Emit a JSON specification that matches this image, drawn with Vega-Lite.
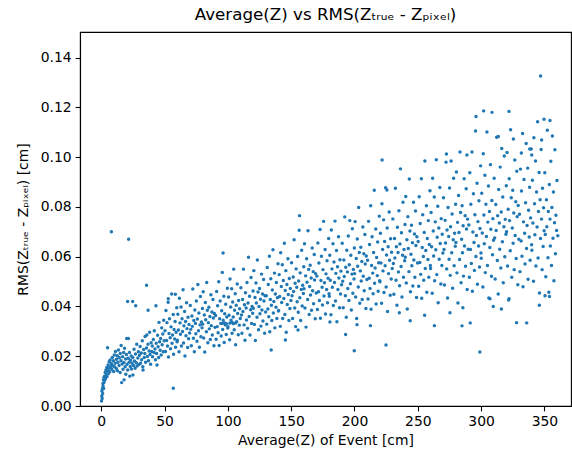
{
"$schema": "https://vega.github.io/schema/vega-lite/v6.json",
"width": 491, "height": 374,
"autosize": {"type": "none"},
"padding": {"left": 80, "top": 32, "right": 1, "bottom": 44},
"title": {"text": "Average(Z) vs RMS(Zₜᵣᵤₑ - Zₚᵢₓₑₗ)", "font": "DejaVu Sans", "fontSize": 16.7, "fontWeight": "normal", "color": "black", "offset": 8, "anchor": "middle"},
"data": {"values": [
{"z":0.2,"r":0.002},{"z":0.4,"r":0.004},{"z":0.5,"r":0.006},{"z":0.7,"r":0.003},{"z":0.9,"r":0.007},{"z":1.1,"r":0.005},{"z":1.3,"r":0.009},{"z":1.4,"r":0.008},{"z":1.7,"r":0.0105},{"z":1.9,"r":0.007},{"z":2.1,"r":0.0115},{"z":2.3,"r":0.0095},{"z":2.6,"r":0.012},{"z":2.9,"r":0.0105},{"z":3.1,"r":0.0135},{"z":3.3,"r":0.011},{"z":3.7,"r":0.0145},{"z":4.0,"r":0.0125},{"z":4.4,"r":0.0155},{"z":4.5,"r":0.0118},{"z":4.9,"r":0.0142},{"z":5.0,"r":0.0234},{"z":5.4,"r":0.0165},{"z":5.6,"r":0.013},{"z":6.1,"r":0.0152},{"z":6.2,"r":0.0178},{"z":6.7,"r":0.0138},{"z":7.0,"r":0.0185},{"z":7.3,"r":0.0158},{"z":7.9,"r":0.0171},{"z":8.0,"r":0.07},{"z":8.3,"r":0.0148},{"z":8.7,"r":0.0195},{"z":9.0,"r":0.0162},{"z":9.6,"r":0.0182},{"z":9.8,"r":0.0139},
{"z":10.3,"r":0.0205},{"z":10.4,"r":0.0158},{"z":11.0,"r":0.0172},{"z":11.2,"r":0.0219},{"z":11.9,"r":0.0151},{"z":12.0,"r":0.0188},{"z":12.6,"r":0.0202},{"z":12.7,"r":0.0142},{"z":13.2,"r":0.0176},{"z":13.6,"r":0.0225},{"z":14.1,"r":0.0163},{"z":14.3,"r":0.0194},{"z":14.9,"r":0.0135},{"z":15.0,"r":0.0211},{"z":15.6,"r":0.0182},{"z":15.7,"r":0.0243},{"z":16.1,"r":0.0094},{"z":16.5,"r":0.0169},{"z":16.9,"r":0.0198},{"z":17.2,"r":0.0148},{"z":17.7,"r":0.0215},{"z":17.9,"r":0.0175},{"z":18.0,"r":0.0105},{"z":18.4,"r":0.0232},{"z":18.9,"r":0.0158},{"z":19.3,"r":0.0189},{"z":19.4,"r":0.0128},{"z":19.9,"r":0.0207},
{"z":20.1,"r":0.0271},{"z":20.4,"r":0.0168},{"z":20.8,"r":0.042},{"z":20.9,"r":0.0145},{"z":21.3,"r":0.0192},{"z":21.4,"r":0.0271},{"z":21.6,"r":0.067},{"z":22.0,"r":0.0176},{"z":22.3,"r":0.0215},{"z":22.5,"r":0.012},{"z":22.9,"r":0.0159},{"z":23.1,"r":0.0184},{"z":23.7,"r":0.0201},{"z":23.8,"r":0.0149},{"z":24.3,"r":0.0172},{"z":24.8,"r":0.042},{"z":24.9,"r":0.0195},{"z":25.0,"r":0.0125},{"z":25.5,"r":0.0163},{"z":25.9,"r":0.0228},{"z":26.2,"r":0.0181},{"z":26.7,"r":0.0152},{"z":27.0,"r":0.0209},{"z":27.2,"r":0.0403},{"z":27.6,"r":0.0174},{"z":28.0,"r":0.0248},{"z":28.3,"r":0.0161},{"z":28.9,"r":0.0193},{"z":29.3,"r":0.0218},{"z":29.7,"r":0.0167},
{"z":30.2,"r":0.0204},{"z":30.7,"r":0.0239},{"z":31.0,"r":0.0172},{"z":31.6,"r":0.0213},{"z":31.9,"r":0.0186},{"z":32.4,"r":0.0262},{"z":32.8,"r":0.0158},{"z":33.0,"r":0.0145},{"z":33.5,"r":0.0227},{"z":33.9,"r":0.0195},{"z":34.4,"r":0.0211},{"z":34.6,"r":0.0279},{"z":35.0,"r":0.0176},{"z":35.7,"r":0.0233},{"z":35.8,"r":0.0485},{"z":36.0,"r":0.0285},{"z":36.4,"r":0.0199},{"z":36.9,"r":0.0248},{"z":37.0,"r":0.0385},{"z":37.3,"r":0.0182},{"z":37.8,"r":0.0221},{"z":38.2,"r":0.0296},{"z":38.5,"r":0.0207},{"z":39.0,"r":0.0168},{"z":39.4,"r":0.0254},{"z":39.8,"r":0.0219},
{"z":40.3,"r":0.0241},{"z":40.5,"r":0.0198},{"z":41.1,"r":0.0267},{"z":41.6,"r":0.0215},{"z":41.9,"r":0.0302},{"z":42.4,"r":0.0229},{"z":42.8,"r":0.0186},{"z":43.2,"r":0.0403},{"z":43.4,"r":0.0252},{"z":43.7,"r":0.0211},{"z":44.0,"r":0.0165},{"z":44.5,"r":0.0284},{"z":44.9,"r":0.0238},{"z":45.3,"r":0.0195},{"z":45.6,"r":0.0336},{"z":46.1,"r":0.0258},{"z":46.5,"r":0.0224},{"z":46.9,"r":0.0271},{"z":47.3,"r":0.0205},{"z":47.7,"r":0.0314},{"z":48.1,"r":0.0246},{"z":48.6,"r":0.0289},{"z":48.9,"r":0.0218},{"z":49.3,"r":0.0345},{"z":49.7,"r":0.0262},
{"z":50.3,"r":0.0302},{"z":50.7,"r":0.0219},{"z":51.1,"r":0.0384},{"z":51.6,"r":0.0263},{"z":51.9,"r":0.0335},{"z":52.3,"r":0.0241},{"z":52.8,"r":0.0417},{"z":53.1,"r":0.0197},{"z":53.5,"r":0.0291},{"z":53.9,"r":0.0351},{"z":54.4,"r":0.0274},{"z":54.7,"r":0.023},{"z":55.1,"r":0.0318},{"z":55.6,"r":0.045},{"z":55.9,"r":0.0252},{"z":56.3,"r":0.0285},{"z":56.8,"r":0.0368},{"z":57.1,"r":0.0208},{"z":57.5,"r":0.0307},{"z":58.0,"r":0.0269},{"z":58.3,"r":0.034},{"z":58.7,"r":0.0236},{"z":59.1,"r":0.0296},{"z":59.6,"r":0.0395},{"z":59.9,"r":0.0258},{"z":52.9,"r":0.0431},{"z":56.9,"r":0.0071},{"z":58.5,"r":0.0449},
{"z":60.1,"r":0.0264},{"z":60.5,"r":0.0369},{"z":60.9,"r":0.0305},{"z":61.4,"r":0.0218},{"z":61.7,"r":0.0433},{"z":62.2,"r":0.0334},{"z":62.5,"r":0.0288},{"z":63.0,"r":0.0398},{"z":63.3,"r":0.0241},{"z":63.8,"r":0.0351},{"z":64.2,"r":0.0299},{"z":64.6,"r":0.0467},{"z":65.0,"r":0.0253},{"z":65.3,"r":0.0322},{"z":65.8,"r":0.038},{"z":66.1,"r":0.0201},{"z":66.6,"r":0.034},{"z":66.9,"r":0.0282},{"z":67.4,"r":0.0415},{"z":67.7,"r":0.0311},{"z":68.2,"r":0.0235},{"z":68.5,"r":0.0357},{"z":69.0,"r":0.027},{"z":69.3,"r":0.0328},{"z":69.8,"r":0.0293},
{"z":70.3,"r":0.0404},{"z":70.7,"r":0.0308},{"z":71.1,"r":0.0242},{"z":71.6,"r":0.0362},{"z":71.9,"r":0.032},{"z":72.3,"r":0.047},{"z":72.8,"r":0.0272},{"z":73.1,"r":0.0344},{"z":73.5,"r":0.0218},{"z":73.9,"r":0.0386},{"z":74.4,"r":0.0332},{"z":74.7,"r":0.029},{"z":75.1,"r":0.0422},{"z":75.6,"r":0.026},{"z":75.9,"r":0.035},{"z":76.3,"r":0.0488},{"z":76.8,"r":0.0302},{"z":77.1,"r":0.0374},{"z":77.5,"r":0.0236},{"z":78.0,"r":0.0326},{"z":78.3,"r":0.044},{"z":78.7,"r":0.0278},{"z":79.1,"r":0.0338},{"z":79.6,"r":0.0314},{"z":79.9,"r":0.0392},
{"z":80.1,"r":0.0329},{"z":80.5,"r":0.0459},{"z":80.9,"r":0.0273},{"z":81.4,"r":0.0366},{"z":81.7,"r":0.0217},{"z":82.2,"r":0.0416},{"z":82.5,"r":0.0347},{"z":83.0,"r":0.0298},{"z":83.3,"r":0.0496},{"z":83.8,"r":0.0385},{"z":84.2,"r":0.0254},{"z":84.6,"r":0.0335},{"z":85.0,"r":0.0397},{"z":85.3,"r":0.031},{"z":85.8,"r":0.036},{"z":86.1,"r":0.0267},{"z":86.6,"r":0.0447},{"z":86.9,"r":0.0323},{"z":87.4,"r":0.0378},{"z":87.7,"r":0.0285},{"z":88.2,"r":0.0428},{"z":88.5,"r":0.0354},{"z":89.0,"r":0.0242},{"z":89.3,"r":0.0372},{"z":89.8,"r":0.0316},
{"z":90.3,"r":0.0364},{"z":90.7,"r":0.0268},{"z":91.1,"r":0.046},{"z":91.6,"r":0.0319},{"z":91.9,"r":0.0403},{"z":92.3,"r":0.0294},{"z":92.8,"r":0.0499},{"z":93.1,"r":0.0243},{"z":93.5,"r":0.0351},{"z":93.9,"r":0.0422},{"z":94.4,"r":0.0332},{"z":94.7,"r":0.0281},{"z":95.1,"r":0.0383},{"z":95.6,"r":0.0537},{"z":95.9,"r":0.0307},{"z":96.3,"r":0.0345},{"z":96.8,"r":0.0441},{"z":97.1,"r":0.0255},{"z":97.5,"r":0.0371},{"z":98.0,"r":0.0326},{"z":98.3,"r":0.0409},{"z":98.7,"r":0.0287},{"z":99.1,"r":0.0358},{"z":99.6,"r":0.0473},{"z":99.9,"r":0.0313},{"z":96.2,"r":0.0615},{"z":95.5,"r":0.0332},{"z":97.3,"r":0.0334},{"z":98.8,"r":0.0331},{"z":101.6,"r":0.0333},{"z":103.2,"r":0.0336},{"z":104.4,"r":0.0331},{"z":106.0,"r":0.0334},
{"z":100.1,"r":0.0319},{"z":100.5,"r":0.0438},{"z":100.9,"r":0.0365},{"z":101.4,"r":0.0266},{"z":101.7,"r":0.051},{"z":102.2,"r":0.0398},{"z":102.5,"r":0.0345},{"z":103.0,"r":0.0471},{"z":103.3,"r":0.0292},{"z":103.8,"r":0.0418},{"z":104.2,"r":0.0358},{"z":104.6,"r":0.055},{"z":105.0,"r":0.0306},{"z":105.3,"r":0.0385},{"z":105.8,"r":0.0451},{"z":106.1,"r":0.0246},{"z":106.6,"r":0.0405},{"z":106.9,"r":0.0339},{"z":107.4,"r":0.049},{"z":107.7,"r":0.0372},{"z":108.2,"r":0.0286},{"z":108.5,"r":0.0424},{"z":109.0,"r":0.0325},{"z":109.3,"r":0.0391},{"z":109.8,"r":0.0352},
{"z":110.3,"r":0.0475},{"z":110.7,"r":0.0366},{"z":111.1,"r":0.0292},{"z":111.6,"r":0.0428},{"z":111.9,"r":0.038},{"z":112.3,"r":0.055},{"z":112.8,"r":0.0326},{"z":113.1,"r":0.0407},{"z":113.5,"r":0.0264},{"z":113.9,"r":0.0455},{"z":114.4,"r":0.0394},{"z":114.7,"r":0.0346},{"z":115.1,"r":0.0496},{"z":115.6,"r":0.0312},{"z":115.9,"r":0.0414},{"z":116.3,"r":0.0598},{"z":116.8,"r":0.036},{"z":117.1,"r":0.0441},{"z":117.5,"r":0.0285},{"z":118.0,"r":0.0387},{"z":118.3,"r":0.0516},{"z":118.7,"r":0.0332},{"z":119.1,"r":0.04},{"z":119.6,"r":0.0373},{"z":119.9,"r":0.0462},
{"z":120.1,"r":0.0393},{"z":120.5,"r":0.0544},{"z":120.9,"r":0.0328},{"z":121.4,"r":0.0436},{"z":121.7,"r":0.0263},{"z":122.2,"r":0.0494},{"z":122.5,"r":0.0414},{"z":123.0,"r":0.0357},{"z":123.3,"r":0.0587},{"z":123.8,"r":0.0458},{"z":124.2,"r":0.0306},{"z":124.6,"r":0.04},{"z":125.0,"r":0.0472},{"z":125.3,"r":0.0371},{"z":125.8,"r":0.0429},{"z":126.1,"r":0.0321},{"z":126.6,"r":0.053},{"z":126.9,"r":0.0386},{"z":127.4,"r":0.045},{"z":127.7,"r":0.0342},{"z":128.2,"r":0.0508},{"z":128.5,"r":0.0422},{"z":129.0,"r":0.0292},{"z":129.3,"r":0.0443},{"z":129.8,"r":0.0378},
{"z":130.3,"r":0.0443},{"z":130.7,"r":0.0329},{"z":131.1,"r":0.0557},{"z":131.6,"r":0.039},{"z":131.9,"r":0.0488},{"z":132.3,"r":0.0359},{"z":132.8,"r":0.0602},{"z":133.1,"r":0.0298},{"z":133.5,"r":0.0428},{"z":133.9,"r":0.0511},{"z":134.4,"r":0.0405},{"z":134.7,"r":0.0344},{"z":135.1,"r":0.0466},{"z":135.6,"r":0.0628},{"z":135.9,"r":0.0374},{"z":136.3,"r":0.042},{"z":136.8,"r":0.0534},{"z":137.1,"r":0.0314},{"z":137.5,"r":0.045},{"z":138.0,"r":0.0397},{"z":138.3,"r":0.0496},{"z":138.7,"r":0.0352},{"z":139.1,"r":0.0435},{"z":139.6,"r":0.0572},{"z":139.9,"r":0.0382},{"z":134.2,"r":0.0225},
{"z":140.1,"r":0.0384},{"z":140.5,"r":0.0528},{"z":140.9,"r":0.044},{"z":141.4,"r":0.032},{"z":141.7,"r":0.0616},{"z":142.2,"r":0.048},{"z":142.5,"r":0.0416},{"z":143.0,"r":0.0568},{"z":143.3,"r":0.0352},{"z":143.8,"r":0.0504},{"z":144.2,"r":0.0432},{"z":144.6,"r":0.0654},{"z":145.0,"r":0.0368},{"z":145.3,"r":0.0464},{"z":145.8,"r":0.0544},{"z":146.1,"r":0.0296},{"z":146.6,"r":0.0488},{"z":146.9,"r":0.0408},{"z":147.4,"r":0.0592},{"z":147.7,"r":0.0448},{"z":148.2,"r":0.0344},{"z":148.5,"r":0.0512},{"z":149.0,"r":0.0392},{"z":149.3,"r":0.0472},{"z":149.8,"r":0.0424},{"z":145.4,"r":0.0265},
{"z":150.3,"r":0.0576},{"z":150.7,"r":0.0443},{"z":151.1,"r":0.0352},{"z":151.6,"r":0.0518},{"z":151.9,"r":0.046},{"z":152.3,"r":0.0668},{"z":152.8,"r":0.0394},{"z":153.1,"r":0.0493},{"z":153.5,"r":0.0319},{"z":153.9,"r":0.0551},{"z":154.4,"r":0.0477},{"z":154.7,"r":0.0419},{"z":155.1,"r":0.0601},{"z":155.6,"r":0.0377},{"z":155.9,"r":0.0502},{"z":156.3,"r":0.0706},{"z":156.8,"r":0.0435},{"z":157.1,"r":0.0535},{"z":157.5,"r":0.0344},{"z":158.0,"r":0.0468},{"z":158.3,"r":0.0626},{"z":158.7,"r":0.0402},{"z":159.1,"r":0.0485},{"z":159.6,"r":0.0452},{"z":159.9,"r":0.056},{"z":156.6,"r":0.0765},{"z":155.4,"r":0.0305},
{"z":160.1,"r":0.0471},{"z":160.5,"r":0.0652},{"z":160.9,"r":0.0394},{"z":161.4,"r":0.0523},{"z":161.7,"r":0.0317},{"z":162.2,"r":0.0592},{"z":162.5,"r":0.0497},{"z":163.0,"r":0.0428},{"z":163.3,"r":0.0704},{"z":163.8,"r":0.0549},{"z":164.2,"r":0.0368},{"z":164.6,"r":0.048},{"z":165.0,"r":0.0566},{"z":165.3,"r":0.0446},{"z":165.8,"r":0.0514},{"z":166.1,"r":0.0385},{"z":166.6,"r":0.0635},{"z":166.9,"r":0.0463},{"z":167.4,"r":0.054},{"z":167.7,"r":0.0411},{"z":168.2,"r":0.0609},{"z":168.5,"r":0.0506},{"z":169.0,"r":0.0351},{"z":169.3,"r":0.0532},{"z":169.8,"r":0.0454},
{"z":170.3,"r":0.0522},{"z":170.7,"r":0.0388},{"z":171.1,"r":0.0655},{"z":171.6,"r":0.0459},{"z":171.9,"r":0.0575},{"z":172.3,"r":0.0424},{"z":172.8,"r":0.0709},{"z":173.1,"r":0.0353},{"z":173.5,"r":0.0504},{"z":173.9,"r":0.0602},{"z":174.4,"r":0.0477},{"z":174.7,"r":0.0406},{"z":175.1,"r":0.0548},{"z":175.6,"r":0.0742},{"z":175.9,"r":0.0442},{"z":176.3,"r":0.0495},{"z":176.8,"r":0.0629},{"z":177.1,"r":0.037},{"z":177.5,"r":0.0531},{"z":178.0,"r":0.0468},{"z":178.3,"r":0.0584},{"z":178.7,"r":0.0415},{"z":179.1,"r":0.0513},{"z":179.6,"r":0.0673},{"z":179.9,"r":0.0451},
{"z":180.1,"r":0.0441},{"z":180.5,"r":0.0606},{"z":180.6,"r":0.0338},{"z":180.9,"r":0.0505},{"z":181.4,"r":0.0367},{"z":181.7,"r":0.0707},{"z":182.2,"r":0.0551},{"z":182.5,"r":0.0477},{"z":183.0,"r":0.0652},{"z":183.3,"r":0.0404},{"z":183.8,"r":0.0579},{"z":184.2,"r":0.0496},{"z":184.6,"r":0.0743},{"z":185.0,"r":0.0422},{"z":185.3,"r":0.0533},{"z":185.8,"r":0.0625},{"z":186.1,"r":0.0339},{"z":186.6,"r":0.056},{"z":186.9,"r":0.0468},{"z":187.4,"r":0.068},{"z":187.7,"r":0.0514},{"z":188.2,"r":0.0395},{"z":188.5,"r":0.0588},{"z":189.0,"r":0.045},{"z":189.3,"r":0.0542},{"z":189.8,"r":0.0487},
{"z":190.3,"r":0.0654},{"z":190.7,"r":0.0501},{"z":191.1,"r":0.0395},{"z":191.6,"r":0.0587},{"z":191.9,"r":0.052},{"z":192.3,"r":0.076},{"z":192.8,"r":0.0443},{"z":193.1,"r":0.0558},{"z":193.5,"r":0.0357},{"z":193.9,"r":0.0626},{"z":194.4,"r":0.0539},{"z":194.7,"r":0.0472},{"z":195.1,"r":0.0683},{"z":195.6,"r":0.0424},{"z":195.9,"r":0.0568},{"z":196.3,"r":0.0745},{"z":196.8,"r":0.0491},{"z":197.1,"r":0.0606},{"z":197.5,"r":0.0386},{"z":198.0,"r":0.053},{"z":198.3,"r":0.0712},{"z":198.7,"r":0.0453},{"z":199.1,"r":0.0549},{"z":199.6,"r":0.051},{"z":199.9,"r":0.0635},{"z":193.0,"r":0.0287},{"z":199.8,"r":0.0222},
{"z":200.1,"r":0.0532},{"z":200.5,"r":0.0741},{"z":200.9,"r":0.0438},{"z":201.4,"r":0.0593},{"z":201.7,"r":0.0352},{"z":202.2,"r":0.0671},{"z":202.0,"r":0.0327},{"z":202.5,"r":0.0562},{"z":203.0,"r":0.0478},{"z":203.3,"r":0.0798},{"z":203.8,"r":0.0617},{"z":204.2,"r":0.0413},{"z":204.6,"r":0.0543},{"z":205.0,"r":0.0638},{"z":205.3,"r":0.0502},{"z":205.8,"r":0.0581},{"z":206.1,"r":0.0428},{"z":206.6,"r":0.0719},{"z":206.9,"r":0.0521},{"z":207.4,"r":0.0612},{"z":207.7,"r":0.0463},{"z":208.2,"r":0.0689},{"z":208.5,"r":0.0571},{"z":209.0,"r":0.0392},{"z":209.3,"r":0.0603},{"z":209.8,"r":0.0508},
{"z":210.3,"r":0.0586},{"z":210.7,"r":0.043},{"z":211.1,"r":0.0742},{"z":211.6,"r":0.0513},{"z":211.9,"r":0.0649},{"z":212.3,"r":0.0472},{"z":212.8,"r":0.0805},{"z":213.1,"r":0.0389},{"z":213.5,"r":0.0565},{"z":213.9,"r":0.068},{"z":214.4,"r":0.0534},{"z":214.7,"r":0.0451},{"z":215.1,"r":0.0617},{"z":215.6,"r":0.0867},{"z":215.9,"r":0.0493},{"z":216.3,"r":0.0555},{"z":216.8,"r":0.0711},{"z":217.1,"r":0.041},{"z":217.5,"r":0.0597},{"z":218.0,"r":0.0524},{"z":218.3,"r":0.0659},{"z":218.7,"r":0.0461},{"z":219.1,"r":0.0576},{"z":219.6,"r":0.0763},{"z":219.9,"r":0.0503},{"z":212.6,"r":0.0323},
{"z":220.1,"r":0.0499},{"z":220.5,"r":0.0694},{"z":220.9,"r":0.0575},{"z":221.4,"r":0.0413},{"z":221.7,"r":0.0813},{"z":222.2,"r":0.0629},{"z":222.5,"r":0.0543},{"z":223.0,"r":0.0748},{"z":223.3,"r":0.0456},{"z":223.8,"r":0.0661},{"z":224.2,"r":0.0564},{"z":224.6,"r":0.0877},{"z":225.0,"r":0.0478},{"z":225.3,"r":0.0607},{"z":225.8,"r":0.0715},{"z":226.1,"r":0.038},{"z":226.6,"r":0.064},{"z":226.9,"r":0.0532},{"z":227.4,"r":0.078},{"z":227.7,"r":0.0586},{"z":228.2,"r":0.0445},{"z":228.5,"r":0.0672},{"z":229.0,"r":0.051},{"z":229.3,"r":0.0618},{"z":229.8,"r":0.0553},{"z":221.8,"r":0.0989},{"z":224.9,"r":0.0245},{"z":225.6,"r":0.0868},
{"z":230.3,"r":0.0752},{"z":230.7,"r":0.0573},{"z":231.1,"r":0.0449},{"z":231.6,"r":0.0673},{"z":231.9,"r":0.0595},{"z":232.3,"r":0.0875},{"z":232.8,"r":0.0505},{"z":233.1,"r":0.064},{"z":233.5,"r":0.0405},{"z":233.9,"r":0.0718},{"z":234.4,"r":0.0617},{"z":234.7,"r":0.0539},{"z":235.1,"r":0.0785},{"z":235.6,"r":0.0483},{"z":235.9,"r":0.0651},{"z":236.3,"r":0.0953},{"z":236.8,"r":0.0561},{"z":237.1,"r":0.0696},{"z":237.5,"r":0.0438},{"z":238.0,"r":0.0606},{"z":238.3,"r":0.0819},{"z":238.7,"r":0.0517},{"z":239.1,"r":0.0629},{"z":239.6,"r":0.0584},{"z":239.9,"r":0.0729},{"z":235.4,"r":0.0375},
{"z":240.1,"r":0.0598},{"z":240.5,"r":0.0842},{"z":240.9,"r":0.0494},{"z":241.4,"r":0.0668},{"z":241.7,"r":0.039},{"z":242.2,"r":0.0761},{"z":242.5,"r":0.0633},{"z":243.0,"r":0.054},{"z":243.3,"r":0.0912},{"z":243.8,"r":0.0703},{"z":244.2,"r":0.0459},{"z":244.6,"r":0.061},{"z":245.0,"r":0.0726},{"z":245.3,"r":0.0564},{"z":245.8,"r":0.0656},{"z":246.1,"r":0.0482},{"z":246.6,"r":0.0819},{"z":246.9,"r":0.0587},{"z":247.4,"r":0.0691},{"z":247.7,"r":0.0517},{"z":248.2,"r":0.0784},{"z":248.5,"r":0.0645},{"z":249.0,"r":0.0436},{"z":249.3,"r":0.068},{"z":249.8,"r":0.0575},{"z":244.0,"r":0.0343},
{"z":250.3,"r":0.0661},{"z":250.7,"r":0.0481},{"z":251.1,"r":0.0841},{"z":251.6,"r":0.0577},{"z":251.9,"r":0.0733},{"z":252.3,"r":0.0529},{"z":252.8,"r":0.0913},{"z":253.1,"r":0.0433},{"z":253.5,"r":0.0637},{"z":253.9,"r":0.0769},{"z":254.4,"r":0.0601},{"z":254.7,"r":0.0505},{"z":255.1,"r":0.0697},{"z":255.6,"r":0.0985},{"z":255.9,"r":0.0553},{"z":256.3,"r":0.0625},{"z":256.8,"r":0.0805},{"z":257.1,"r":0.0457},{"z":257.5,"r":0.0673},{"z":258.0,"r":0.0589},{"z":258.3,"r":0.0745},{"z":258.7,"r":0.0517},{"z":259.1,"r":0.0649},{"z":259.6,"r":0.0865},{"z":259.9,"r":0.0565},{"z":255.4,"r":0.0365},
{"z":260.1,"r":0.0553},{"z":260.5,"r":0.0778},{"z":260.9,"r":0.064},{"z":261.4,"r":0.0453},{"z":261.7,"r":0.0915},{"z":262.2,"r":0.0703},{"z":262.5,"r":0.0603},{"z":263.0,"r":0.084},{"z":263.3,"r":0.0503},{"z":263.8,"r":0.074},{"z":264.2,"r":0.0628},{"z":264.6,"r":0.099},{"z":265.0,"r":0.0528},{"z":265.3,"r":0.0678},{"z":265.8,"r":0.0803},{"z":266.1,"r":0.0415},{"z":266.6,"r":0.0715},{"z":266.9,"r":0.059},{"z":267.4,"r":0.0878},{"z":267.7,"r":0.0653},{"z":268.2,"r":0.049},{"z":268.5,"r":0.0753},{"z":269.0,"r":0.0565},{"z":269.3,"r":0.069},{"z":269.8,"r":0.0615},{"z":263.1,"r":0.0323},
{"z":270.3,"r":0.0837},{"z":270.7,"r":0.0629},{"z":271.1,"r":0.0486},{"z":271.6,"r":0.0746},{"z":271.9,"r":0.0655},{"z":272.3,"r":0.098},{"z":272.8,"r":0.0551},{"z":273.1,"r":0.0707},{"z":273.5,"r":0.0434},{"z":273.9,"r":0.0798},{"z":274.4,"r":0.0681},{"z":274.7,"r":0.059},{"z":275.1,"r":0.0876},{"z":275.6,"r":0.0525},{"z":275.9,"r":0.072},{"z":276.3,"r":0.0985},{"z":276.8,"r":0.0616},{"z":277.1,"r":0.0772},{"z":277.5,"r":0.0473},{"z":278.0,"r":0.0668},{"z":278.3,"r":0.0915},{"z":278.7,"r":0.0564},{"z":279.1,"r":0.0694},{"z":279.6,"r":0.0642},{"z":279.9,"r":0.0811},{"z":272.6,"r":0.1013},{"z":275.4,"r":0.0375},
{"z":280.1,"r":0.0657},{"z":280.5,"r":0.094},{"z":280.9,"r":0.0535},{"z":281.4,"r":0.0738},{"z":281.7,"r":0.0414},{"z":282.2,"r":0.0846},{"z":282.5,"r":0.0697},{"z":283.0,"r":0.0589},{"z":283.3,"r":0.1021},{"z":283.8,"r":0.0778},{"z":284.2,"r":0.0495},{"z":284.6,"r":0.067},{"z":285.0,"r":0.0805},{"z":285.3,"r":0.0616},{"z":285.8,"r":0.0724},{"z":286.1,"r":0.0522},{"z":286.6,"r":0.0913},{"z":286.9,"r":0.0643},{"z":287.4,"r":0.0765},{"z":287.7,"r":0.0562},{"z":288.2,"r":0.0873},{"z":288.5,"r":0.0711},{"z":289.0,"r":0.0468},{"z":289.3,"r":0.0751},{"z":289.8,"r":0.063},{"z":284.9,"r":0.0322},{"z":285.6,"r":0.0395},{"z":288.8,"r":0.1009},
{"z":290.3,"r":0.0727},{"z":290.7,"r":0.0517},{"z":291.1,"r":0.0937},{"z":291.6,"r":0.0629},{"z":291.9,"r":0.0811},{"z":292.3,"r":0.0573},{"z":292.8,"r":0.1021},{"z":293.1,"r":0.0461},{"z":293.5,"r":0.0699},{"z":293.9,"r":0.0853},{"z":294.4,"r":0.0657},{"z":294.7,"r":0.0545},{"z":295.1,"r":0.0769},{"z":295.6,"r":0.1105},{"z":295.9,"r":0.0601},{"z":296.3,"r":0.0685},{"z":296.8,"r":0.0895},{"z":297.1,"r":0.0489},{"z":297.5,"r":0.0741},{"z":298.0,"r":0.0643},{"z":298.3,"r":0.0825},{"z":298.7,"r":0.0559},{"z":299.1,"r":0.0713},{"z":299.6,"r":0.0965},{"z":299.9,"r":0.0615},{"z":291.4,"r":0.0334},{"z":296.0,"r":0.1163},{"z":299.0,"r":0.0217},
{"z":300.1,"r":0.0594},{"z":300.5,"r":0.0855},{"z":300.9,"r":0.0695},{"z":301.4,"r":0.0478},{"z":301.7,"r":0.1014},{"z":302.2,"r":0.0768},{"z":302.5,"r":0.0652},{"z":303.0,"r":0.0927},{"z":303.3,"r":0.0536},{"z":303.8,"r":0.0811},{"z":304.2,"r":0.0681},{"z":304.6,"r":0.1101},{"z":305.0,"r":0.0565},{"z":305.3,"r":0.0739},{"z":305.8,"r":0.0884},{"z":306.1,"r":0.0434},{"z":306.6,"r":0.0782},{"z":306.9,"r":0.0637},{"z":307.4,"r":0.097},{"z":307.7,"r":0.071},{"z":308.2,"r":0.0521},{"z":308.5,"r":0.0826},{"z":309.0,"r":0.0608},{"z":309.3,"r":0.0753},{"z":309.8,"r":0.0666},{"z":302.0,"r":0.1186},{"z":307.0,"r":0.0431},{"z":308.6,"r":0.118},{"z":309.6,"r":0.04},
{"z":310.3,"r":0.0915},{"z":310.7,"r":0.0675},{"z":311.1,"r":0.051},{"z":311.6,"r":0.081},{"z":311.9,"r":0.0705},{"z":312.3,"r":0.108},{"z":312.8,"r":0.0585},{"z":313.1,"r":0.0765},{"z":313.5,"r":0.045},{"z":313.9,"r":0.087},{"z":314.4,"r":0.0735},{"z":314.7,"r":0.063},{"z":315.1,"r":0.096},{"z":315.6,"r":0.0555},{"z":315.9,"r":0.078},{"z":316.3,"r":0.1035},{"z":316.8,"r":0.066},{"z":317.1,"r":0.084},{"z":317.5,"r":0.0495},{"z":318.0,"r":0.072},{"z":318.3,"r":0.1005},{"z":318.7,"r":0.06},{"z":319.1,"r":0.075},{"z":319.6,"r":0.069},{"z":319.9,"r":0.0885},{"z":313.6,"r":0.1083},{"z":316.0,"r":0.039},
{"z":320.1,"r":0.07},{"z":320.5,"r":0.1019},{"z":320.9,"r":0.0563},{"z":321.4,"r":0.0791},{"z":321.7,"r":0.0426},{"z":322.2,"r":0.0913},{"z":322.5,"r":0.0745},{"z":323.0,"r":0.0624},{"z":323.3,"r":0.111},{"z":323.8,"r":0.0837},{"z":324.2,"r":0.0517},{"z":324.6,"r":0.0715},{"z":325.0,"r":0.0867},{"z":325.3,"r":0.0654},{"z":325.8,"r":0.0776},{"z":326.1,"r":0.0548},{"z":326.6,"r":0.0989},{"z":326.9,"r":0.0685},{"z":327.4,"r":0.0821},{"z":327.7,"r":0.0593},{"z":328.2,"r":0.0943},{"z":328.5,"r":0.0761},{"z":329.0,"r":0.0487},{"z":329.3,"r":0.0806},{"z":329.8,"r":0.067},{"z":322.0,"r":0.1184},{"z":322.1,"r":0.0431},{"z":325.5,"r":0.1073},{"z":328.0,"r":0.0335},
{"z":330.3,"r":0.0771},{"z":330.7,"r":0.054},{"z":331.1,"r":0.0952},{"z":331.6,"r":0.0663},{"z":331.9,"r":0.0864},{"z":332.3,"r":0.0602},{"z":332.8,"r":0.1095},{"z":333.1,"r":0.0479},{"z":333.5,"r":0.074},{"z":333.9,"r":0.091},{"z":334.4,"r":0.0694},{"z":334.7,"r":0.0571},{"z":335.1,"r":0.0817},{"z":335.6,"r":0.1055},{"z":335.9,"r":0.0633},{"z":336.3,"r":0.0725},{"z":336.8,"r":0.0956},{"z":337.1,"r":0.0509},{"z":337.5,"r":0.0787},{"z":338.0,"r":0.0679},{"z":338.3,"r":0.0879},{"z":338.7,"r":0.0586},{"z":339.1,"r":0.0756},{"z":339.6,"r":0.1033},{"z":339.9,"r":0.0648},{"z":331.8,"r":0.1017},{"z":336.0,"r":0.0334},{"z":338.4,"r":0.1033},{"z":340.0,"r":0.1009},
{"z":340.1,"r":0.0626},{"z":340.5,"r":0.0907},{"z":340.9,"r":0.0735},{"z":341.4,"r":0.0501},{"z":341.7,"r":0.1078},{"z":342.2,"r":0.0813},{"z":342.5,"r":0.0688},{"z":343.0,"r":0.0985},{"z":343.3,"r":0.0563},{"z":343.8,"r":0.086},{"z":344.2,"r":0.0719},{"z":344.6,"r":0.1142},{"z":345.0,"r":0.0595},{"z":345.3,"r":0.0782},{"z":345.8,"r":0.0938},{"z":346.1,"r":0.0454},{"z":346.6,"r":0.0829},{"z":346.9,"r":0.0673},{"z":347.4,"r":0.1031},{"z":347.7,"r":0.0751},{"z":348.2,"r":0.0548},{"z":348.5,"r":0.0875},{"z":349.0,"r":0.0641},{"z":349.3,"r":0.0797},{"z":349.8,"r":0.0704},{"z":346.0,"r":0.0405},{"z":347.0,"r":0.1326},{"z":347.8,"r":0.1069},{"z":349.7,"r":0.1152},
{"z":350.3,"r":0.0937},{"z":350.7,"r":0.0689},{"z":351.1,"r":0.0519},{"z":351.6,"r":0.0829},{"z":351.9,"r":0.072},{"z":352.3,"r":0.1108},{"z":352.8,"r":0.0596},{"z":353.1,"r":0.0782},{"z":353.5,"r":0.0457},{"z":353.9,"r":0.089},{"z":354.4,"r":0.0751},{"z":354.7,"r":0.0643},{"z":355.1,"r":0.0984},{"z":355.6,"r":0.0565},{"z":355.9,"r":0.0798},{"z":356.3,"r":0.1085},{"z":356.8,"r":0.0674},{"z":357.1,"r":0.086},{"z":357.5,"r":0.0503},{"z":358.0,"r":0.0736},{"z":358.3,"r":0.103},{"z":358.7,"r":0.0612},{"z":359.1,"r":0.0767},{"z":359.6,"r":0.0705},{"z":359.9,"r":0.0906},{"z":360.6,"r":0.0684},{"z":354.4,"r":0.1147},{"z":350.5,"r":0.0443},{"z":354.0,"r":0.044}
]},
"mark": {"type": "circle", "size": 12, "color": "#1f77b4", "opacity": 1},
"encoding": {
"x": {"field": "z", "type": "quantitative", "scale": {"domain": [-16.8, 371], "nice": false, "zero": false}, "axis": {"values": [0, 50, 100, 150, 200, 250, 300, 350], "title": "Average(Z) of Event [cm]", "grid": false, "titlePadding": 5}},
"y": {"field": "r", "type": "quantitative", "scale": {"domain": [0, 0.1503], "nice": false}, "axis": {"values": [0, 0.02, 0.04, 0.06, 0.08, 0.1, 0.12, 0.14], "format": ".2f", "title": "RMS(Zₜᵣᵤₑ - Zₚᵢₓₑₗ) [cm]", "grid": false, "titlePadding": 10}}
},
"config": {"view": {"stroke": "black", "strokeWidth": 1.1}, "axis": {"domainColor": "black", "tickColor": "black", "labelColor": "black", "titleColor": "black", "labelFont": "DejaVu Sans", "titleFont": "DejaVu Sans", "labelFontSize": 13.9, "titleFontSize": 13.9, "titleFontWeight": "normal", "tickSize": 4.9, "labelPadding": 4, "domainWidth": 1.1, "tickWidth": 1.1}}
}
